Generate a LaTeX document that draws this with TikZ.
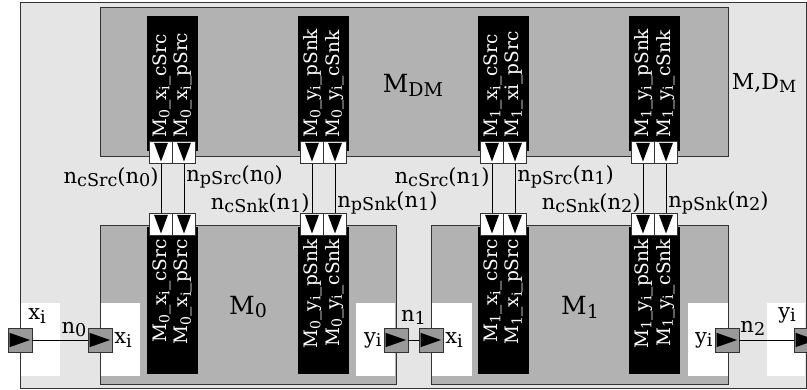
\documentclass[tikz,border=0pt]{standalone}
\usepackage{fontspec}
\setmainfont{DejaVu Serif}
\usepackage{tikz}
\usetikzlibrary{positioning, calc}
\newcommand{\subratio}{0.76}
\makeatletter
\newcommand{\sub}[1]{\raisebox{-0.3ex}{\fontsize{\the\dimexpr \subratio\dimexpr\f@size pt\relax\relax}{0pt}\selectfont #1}}
\makeatother
\tikzstyle{outerbox} = [draw=black!80, fill=black!10, inner sep=0pt]
\tikzstyle{modbox} = [draw=black!80, fill=black!30, inner sep=0pt]
\tikzstyle{ifarea} = [fill=white, inner sep=0pt, minimum height=73pt]
\tikzstyle{strip} = [fill=black, inner sep=0pt, minimum width=51pt]
\tikzstyle{striptext} = [text=white, rotate=90, inner sep=0pt, font=\fontsize{18.5}{21.5}\selectfont]
\tikzstyle{vport} = [draw=black!80, fill=white, inner sep=0pt, minimum width=23pt, minimum height=22pt,
  path picture={\fill[black] ($(path picture bounding box.north west)!.2!(path picture bounding box.north east)+(0,-1.5pt)$)
    -- ($(path picture bounding box.north west)!.8!(path picture bounding box.north east)+(0,-1.5pt)$)
    -- ($(path picture bounding box.south)+(0,2pt)$) -- cycle;}]
\tikzstyle{hport} = [draw=black!80, fill=black!40, inner sep=0pt, minimum width=24pt, minimum height=24pt,
  path picture={\fill[black] ($(path picture bounding box.north west)!.2!(path picture bounding box.south west)+(1.5pt,0)$)
    -- ($(path picture bounding box.north west)!.8!(path picture bounding box.south west)+(1.5pt,0)$)
    -- ($(path picture bounding box.east)+(-2pt,0)$) -- cycle;}]
\tikzstyle{conn} = [black, line width=0.8pt]
\tikzstyle{lbl} = [inner sep=2pt, font=\renewcommand{\subratio}{0.84}\fontsize{21}{24}\selectfont]
\tikzstyle{mlbl} = [inner sep=0pt, font=\fontsize{25}{28}\selectfont]

\begin{document}
\begin{tikzpicture}[x=1pt,y=-1pt]
  \useasboundingbox (0,0) rectangle (807,390);

  \node[outerbox, minimum width=786pt, minimum height=386pt] (outer) at (413,195) {};
  \node[ifarea, minimum width=39pt] (if-in) at (40.5,339.5) {};
  \node[ifarea, minimum width=38pt] (if-out) at (786,339.5) {};

  \node[modbox, minimum width=628pt, minimum height=149pt] (dm) at (414,81.5) {};
  \node[modbox, minimum width=296pt, minimum height=159pt] (m0) at (248,304.5) {};
  \node[modbox, minimum width=297pt, minimum height=159pt] (m1) at (579.5,304.5) {};

  \node[ifarea, minimum width=39pt] (m0-in) at (120.5,339.5) {};
  \node[ifarea, minimum width=39pt] (m0-out) at (375.5,339.5) {};
  \node[ifarea, minimum width=40pt] (m1-in) at (451.5,339.5) {};
  \node[ifarea, minimum width=40pt] (m1-out) at (707.5,339.5) {};

  \node[mlbl] (l-dm) at (413,85) {M\sub{DM}};
  \node[mlbl, font=\fontsize{22}{26}\selectfont] (l-md) at (764,83) {M,D\sub{M}};
  \node[mlbl] (l-m0) at (248,307) {M\sub{0}};
  \node[mlbl] (l-m1) at (580,307) {M\sub{1}};

  % strips of the DM part
  \node[strip, minimum height=135pt] (st-1) at (172.5,83.5) {};
  \node[strip, minimum height=135pt] (st-2) at (323.5,83.5) {};
  \node[strip, minimum height=135pt] (st-3) at (503.5,83.5) {};
  \node[strip, minimum height=135pt] (st-4) at (654.5,83.5) {};
  \node[striptext, anchor=west, align=left] at (172.5,138) {M\sub{0}\_x\sub{i}\_cSrc\\M\sub{0}\_x\sub{i}\_pSrc};
  \node[striptext, anchor=west, align=left] at (323.5,138) {M\sub{0}\_y\sub{i}\_pSnk\\M\sub{0}\_y\sub{i}\_cSnk};
  \node[striptext, anchor=west, align=left] at (503.5,138) {M\sub{1}\_x\sub{i}\_cSrc\\M\sub{1}\_xi\_pSrc};
  \node[striptext, anchor=west, align=left] at (654.5,138) {M\sub{1}\_y\sub{i}\_pSnk\\M\sub{1}\_y\sub{i}\_cSnk};

  % strips of M0 and M1
  \node[strip, minimum height=147pt] (sb-1) at (172.5,300.5) {};
  \node[strip, minimum height=147pt] (sb-2) at (323.5,300.5) {};
  \node[strip, minimum height=147pt] (sb-3) at (503.5,300.5) {};
  \node[strip, minimum height=147pt] (sb-4) at (654.5,300.5) {};
  \node[striptext, anchor=east, align=right] at (172.5,239) {M\sub{0}\_x\sub{i}\_cSrc\\M\sub{0}\_x\sub{i}\_pSrc};
  \node[striptext, anchor=east, align=right] at (323.5,239) {M\sub{0}\_y\sub{i}\_pSnk\\M\sub{0}\_y\sub{i}\_cSnk};
  \node[striptext, anchor=east, align=right] at (503.5,239) {M\sub{1}\_x\sub{i}\_cSrc\\M\sub{1}\_x\sub{i}\_pSrc};
  \node[striptext, anchor=east, align=right] at (654.5,239) {M\sub{1}\_y\sub{i}\_pSnk\\M\sub{1}\_y\sub{i}\_cSnk};

  % ports between DM and the modules
  \foreach \i/\x in {1/161, 2/184, 3/312, 4/335, 5/492, 6/515, 7/643, 8/666} {
    \node[vport] (pt-\i) at (\x,152.5) {};
    \node[vport] (pb-\i) at (\x,224.5) {};
  }
  \draw[conn] (pt-1) -- node[lbl, pos=.27, left=0pt] {n\sub{cSrc}(n\sub{0})} (pb-1);
  \draw[conn] (pt-2) -- node[lbl, pos=.27, right=0pt] {n\sub{pSrc}(n\sub{0})} (pb-2);
  \draw[conn] (pt-3) -- node[lbl, pos=.79, left=0pt] {n\sub{cSnk}(n\sub{1})} (pb-3);
  \draw[conn] (pt-4) -- node[lbl, pos=.79, right=0pt] {n\sub{pSnk}(n\sub{1})} (pb-4);
  \draw[conn] (pt-5) -- node[lbl, pos=.27, left=0pt] {n\sub{cSrc}(n\sub{1})} (pb-5);
  \draw[conn] (pt-6) -- node[lbl, pos=.27, right=0pt] {n\sub{pSrc}(n\sub{1})} (pb-6);
  \draw[conn] (pt-7) -- node[lbl, pos=.79, left=0pt] {n\sub{cSnk}(n\sub{2})} (pb-7);
  \draw[conn] (pt-8) -- node[lbl, pos=.79, right=0pt] {n\sub{pSnk}(n\sub{2})} (pb-8);

  % ports along the x/y chain
  \node[hport] (px-in) at (20,340) {};
  \node[hport] (px-m0) at (100,340) {};
  \node[hport] (py-m0) at (396,340) {};
  \node[hport] (px-m1) at (431,340) {};
  \node[hport] (py-m1) at (727,340) {};
  \node[hport] (py-out) at (806,340) {};
  \draw[conn] (px-in) -- node[lbl, above=1pt, pos=.75] {n\sub{0}} (px-m0);
  \draw[conn] (py-m0) -- node[lbl, above=13pt] {n\sub{1}} (px-m1);
  \draw[conn] (py-m1) -- node[lbl, above=2pt, pos=.25] {n\sub{2}} (py-out);

  \node[lbl] (l-xin) at (37,316) {x\sub{i}};
  \node[lbl, right=0pt of px-m0] (l-x0) {x\sub{i}};
  \node[lbl, left=0pt of py-m0] (l-y0) {y\sub{i}};
  \node[lbl, right=0pt of px-m1] (l-x1) {x\sub{i}};
  \node[lbl, left=0pt of py-m1] (l-y1) {y\sub{i}};
  \node[lbl] (l-yout) at (787,315) {y\sub{i}};
\end{tikzpicture}
\end{document}
